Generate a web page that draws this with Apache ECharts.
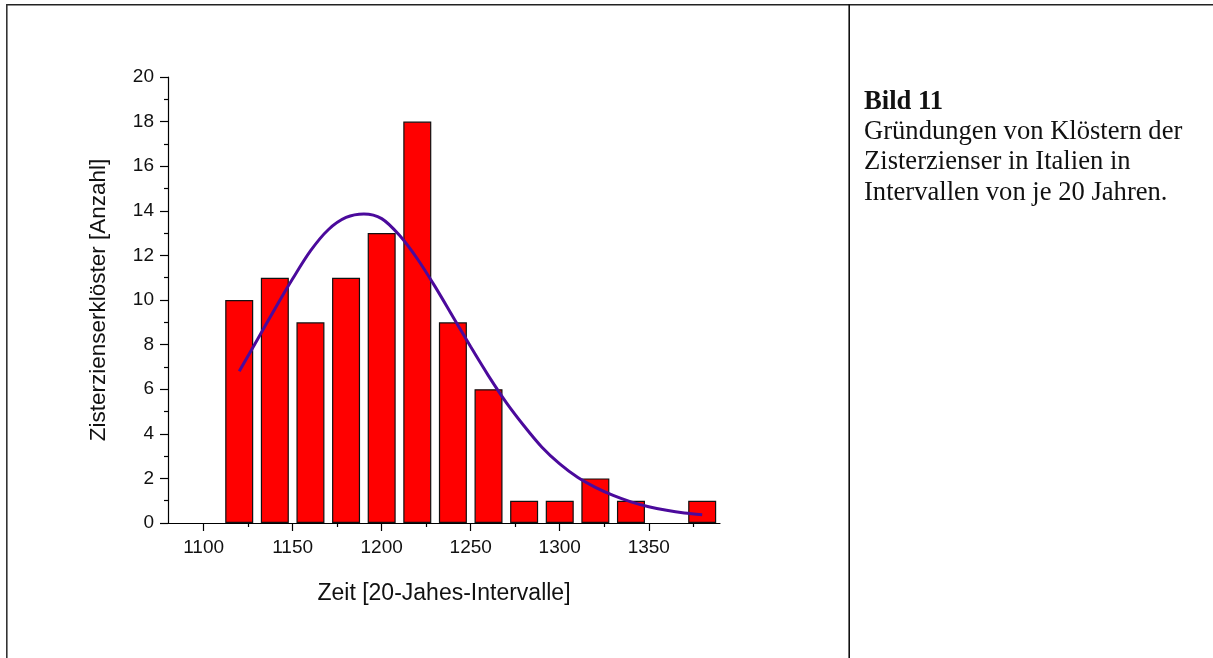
<!DOCTYPE html>
<html>
<head>
<meta charset="utf-8">
<script src="https://cdn.jsdelivr.net/npm/echarts@6/dist/echarts.min.js"></script>
<style>
html,body{margin:0;padding:0;background:#fff;}
#chart{width:1213px;height:658px;}
</style>
</head>
<body>
<div id="chart"></div>
<script>
// Data
var years = [1120, 1140, 1160, 1180, 1200, 1220, 1240, 1260, 1280, 1300, 1320, 1340, 1360, 1380];
var counts = [10, 11, 9, 11, 13, 18, 9, 6, 1, 1, 2, 1, 0, 1];
var fitYears = [1120, 1130, 1140, 1150, 1160, 1170, 1180, 1190, 1200, 1210, 1220, 1230, 1240, 1250, 1260, 1270, 1280, 1290, 1300, 1310, 1320, 1330, 1340, 1350, 1360, 1370, 1380];
var fitValues = [6.8, 8.2, 9.6, 10.95, 12.2, 13.15, 13.7, 13.86, 13.65, 12.9, 11.85, 10.6, 9.25, 7.9, 6.6, 5.4, 4.35, 3.4, 2.65, 2.05, 1.6, 1.24, 0.95, 0.73, 0.57, 0.45, 0.37];
var xLabels = [1100, 1150, 1200, 1250, 1300, 1350];
var xMinorTicks = [1125, 1175, 1225, 1275, 1325, 1375];
var xTitle = 'Zeit [20-Jahes-Intervalle]';
var yTitle = 'Zisterzienserklöster [Anzahl]';
var captionTitle = 'Bild 11';
var captionLines = ['Gründungen von Klöstern der', 'Zisterzienser in Italien in', 'Intervallen von je 20 Jahren.'];

var barData = [];
years.forEach(function (y, i) { if (counts[i] > 0) { barData.push([y, counts[i]]); } });
var fitData = fitYears.map(function (y, i) { return [y, fitValues[i]]; });

var sans = '"Liberation Sans", Arial, sans-serif';
var serif = '"Liberation Serif", "Times New Roman", serif';

var chart = echarts.init(document.getElementById('chart'), null, {renderer: 'canvas'});
chart.setOption({
  animation: false,
  backgroundColor: '#ffffff',
  grid: {left: 168, top: 77, right: 493, bottom: 135, containLabel: false},
  xAxis: [{
    type: 'value',
    min: 1080,
    max: 1390,
    position: 'bottom',
    name: xTitle,
    nameLocation: 'middle',
    nameGap: 59,
    nameTextStyle: {fontFamily: sans, fontSize: 23, color: '#111'},
    axisLine: {show: true, lineStyle: {color: '#000', width: 1.2}},
    axisTick: {show: true, inside: false, length: 8, customValues: xLabels, lineStyle: {color: '#000', width: 1.2}},
    axisLabel: {show: true, customValues: xLabels, margin: 15, fontFamily: sans, fontSize: 19, color: '#111',
      formatter: function (v) { return String(v); }},
    splitLine: {show: false}
  }, {
    type: 'value',
    min: 1080,
    max: 1390,
    position: 'bottom',
    axisLine: {show: false},
    axisTick: {show: true, inside: false, length: 4, customValues: xMinorTicks, lineStyle: {color: '#000', width: 1.2}},
    axisLabel: {show: false},
    splitLine: {show: false}
  }],
  yAxis: {
    type: 'value',
    min: 0,
    max: 20,
    interval: 2,
    name: yTitle,
    nameLocation: 'middle',
    nameGap: 58,
    nameRotate: 90,
    nameTextStyle: {fontFamily: sans, fontSize: 22.5, color: '#111'},
    axisLine: {show: true, lineStyle: {color: '#000', width: 1.2}},
    axisTick: {show: true, inside: false, length: 8, lineStyle: {color: '#000', width: 1.2}},
    minorTick: {show: true, splitNumber: 2, length: 4, lineStyle: {color: '#000', width: 1.2}},
    axisLabel: {margin: 14, fontFamily: sans, fontSize: 19, color: '#111'},
    splitLine: {show: false},
    minorSplitLine: {show: false}
  },
  series: [{
    type: 'bar',
    xAxisIndex: 0,
    data: barData,
    barWidth: 28,
    itemStyle: {color: '#ff0000', borderColor: '#111', borderWidth: 1.2},
    z: 2
  }, {
    type: 'line',
    xAxisIndex: 0,
    data: fitData,
    smooth: 0.3,
    showSymbol: false,
    lineStyle: {color: '#4b0a9c', width: 3},
    z: 3
  }],
  graphic: [
    {type: 'line', shape: {x1: 6, y1: 4.8, x2: 1213, y2: 4.8}, style: {stroke: '#222', lineWidth: 1.6}},
    {type: 'line', shape: {x1: 6.8, y1: 4, x2: 6.8, y2: 658}, style: {stroke: '#333', lineWidth: 1.6}},
    {type: 'line', shape: {x1: 849.2, y1: 4, x2: 849.2, y2: 658}, style: {stroke: '#111', lineWidth: 1.6}},
    {type: 'text', left: 864, top: 87, style: {
      text: '{b|' + captionTitle + '}\n' + captionLines.join('\n'),
      font: '26.6px ' + serif,
      lineHeight: 30.2,
      fill: '#111',
      rich: {b: {fontFamily: serif, fontSize: 26.6, fontWeight: 'bold', lineHeight: 30.2, fill: '#111'}}
    }}
  ]
});
</script>
</body>
</html>
